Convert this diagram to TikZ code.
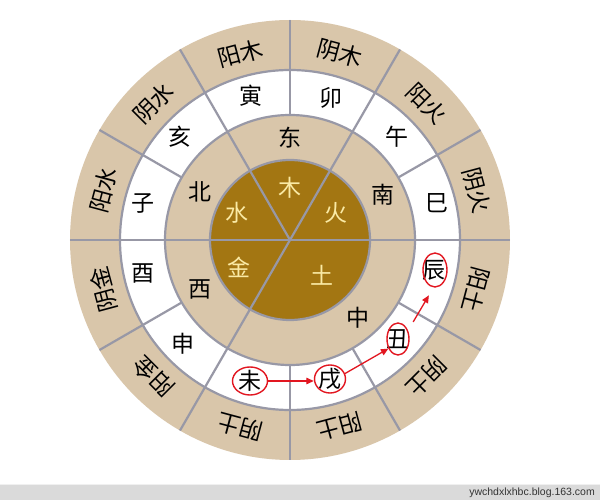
\documentclass[tikz,border=0pt]{standalone}
\usepackage{fontspec}
\newfontfamily\cjk{Noto Sans CJK SC}
\newfontfamily\wmfont{Liberation Sans}
\usetikzlibrary{shapes.geometric,arrows.meta}
\definecolor{tanc}{RGB}{217,198,170}
\definecolor{goldc}{RGB}{163,118,18}
\definecolor{gridc}{RGB}{152,152,166}
\definecolor{goldtext}{RGB}{250,234,165}
\definecolor{markc}{RGB}{226,22,32}
\definecolor{barc}{RGB}{218,218,218}
\tikzset{
  gridline/.style={draw=gridc, line width=2.2pt},
  zh/.style={font=\cjk\fontsize{23}{23}\selectfont, inner sep=0pt, text=black},
  elem/.style={zh, text=goldtext},
  outer/.style={zh},
  ring/.style={draw=markc, ellipse, line width=1.4pt, inner sep=0pt},
  redarrow/.style={draw=markc, line width=1.3pt, -{Triangle[length=7.5pt,width=6.5pt]}},
}
\begin{document}
\begin{tikzpicture}[x=1pt,y=1pt]
\useasboundingbox (-290,-260) rectangle (310,240);
\fill[white] (-290,-260) rectangle (310,240);
% watermark bar
\fill[barc] (-290,-260) rectangle (310,-245);
\draw[white!88!gray, line width=1pt] (-290,-245) -- (310,-245);
\node[anchor=east, inner sep=0pt, font=\wmfont\fontsize{10.5}{10.5}\selectfont, text=black!80] (wm) at (305,-253) {ywchdxlxhbc.blog.163.com};
% disks
\fill[tanc] (0,0) circle (220);
\fill[white] (0,0) circle (170);
\fill[tanc] (0,0) circle (125);
\fill[goldc] (0,0) circle (80);
\draw[gridline] (0,0) circle (170) (0,0) circle (125) (0,0) circle (80);
\foreach \a in {0,60,120,180,240} \draw[gridline] (0,0) -- (\a:220);
\foreach \a in {30,90,150,210,270,300,330} \draw[gridline] (\a:125) -- (\a:220);
% five elements
\node[elem] (mu) at (0,52) {木};
\node[elem] (huo) at (46,27) {火};
\node[elem] (tu) at (32,-35) {土};
\node[elem] (jin) at (-51,-27) {金};
\node[elem] (shui) at (-53,27) {水};
% directions
\node[zh] (dong) at (90:102) {东};
\node[zh] (nan) at (26:103) {南};
\node[zh] (zhong) at (-49:103) {中};
\node[zh] (xi) at (-151:103) {西};
\node[zh] (bei) at (152:102) {北};
% branches
\node[zh] (yin) at (105:149) {寅};
\node[zh] (mao) at (74:148) {卯};
\node[zh] (wu) at (44:149) {午};
\node[zh] (si) at (14:151) {巳};
\node[zh] (chen) at (144,-30) {辰};
\node[zh] (chou) at (108,-99) {丑};
\node[zh] (xu) at (40,-139) {戌};
\node[zh] (wei) at (-40,-141) {未};
\node[zh] (shen) at (-136:149) {申};
\node[zh] (you) at (-167:151) {酉};
\node[zh] (zi) at (166:152) {子};
\node[zh] (hai) at (137:151) {亥};
% outer ring
\foreach \a/\t/\n in {105/阳木/o1,75/阴木/o2,45/阳火/o3,15/阴火/o4,-15/阳土/o5,-45/阴土/o6,-75/阳土/o7,-105/阴土/o8,-135/阳金/o9,-165/阴金/o10,165/阳水/o11,135/阴水/o12}
  \node[outer, rotate=\a-90] (\n) at (\a:193) {\t};
% red marks
\node[ring, minimum width=35pt, minimum height=28pt] (weiR) at (-40,-141) {};
\node[ring, minimum width=31pt, minimum height=28pt] (xuR) at (40,-139) {};
\node[ring, minimum width=22pt, minimum height=32pt] (chouR) at (108,-99) {};
\node[ring, minimum width=24pt, minimum height=34pt] (chenR) at (145,-30) {};
\draw[redarrow] (weiR.east) -- (weiR.east -| xuR.west);
\draw[redarrow] (xuR.20) -- (chouR.225);
\draw[redarrow, shorten <=10pt, shorten >=9pt] (chouR.40) -- (chenR.265);
\end{tikzpicture}
\end{document}
